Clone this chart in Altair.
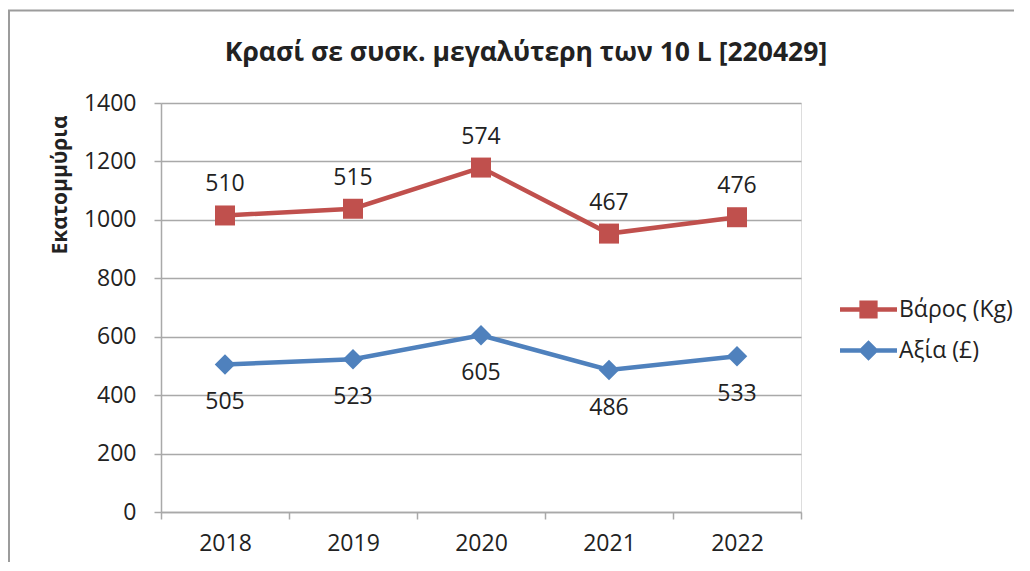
import altair as alt
import pandas as pd

years = ["2018", "2019", "2020", "2021", "2022"]
weight = [510, 515, 574, 467, 476]   # Βάρος (Kg)
value = [505, 523, 605, 486, 533]    # Αξία (£)
series = ["Βάρος (Kg)", "Αξία (£)"]
colors = ["#C0504D", "#4F81BD"]
y_ticks = [0, 200, 400, 600, 800, 1000, 1200, 1400]
chart_title = "Κρασί σε συσκ. μεγαλύτερη των 10 L [220429]"

rows = []
for i, yr in enumerate(years):
    rows.append({"year": yr, "series": series[1], "v": value[i], "ord": 0})
    rows.append({"year": yr, "series": series[0], "v": weight[i], "ord": 1})
df = pd.DataFrame(rows)

FONT = "Open Sans"
GRID = "#a9a9a9"
TXT = "#222222"
FS = 23

base = alt.Chart(df).transform_stack(
    stack="v", groupby=["year"], as_=["y0", "y1"], sort=[alt.SortField("ord")]
)

x_enc = alt.X(
    "year:N",
    title=None,
    sort=years,
    bandPosition=0.5,
    scale=alt.Scale(type="band", paddingInner=0, paddingOuter=0),
    axis=alt.Axis(
        tickBand="extent", labelAngle=0, labelFont=FONT, labelFontSize=FS,
        labelColor=TXT, labelPadding=13, tickSize=7, tickColor=GRID,
        domainColor=GRID, domainWidth=1.5, tickWidth=1.5, grid=False,
    ),
)
y_enc = alt.Y(
    "y1:Q",
    scale=alt.Scale(domain=[0, 1400]),
    axis=alt.Axis(
        values=y_ticks, format="d", title="Εκατομμύρια", titleFont=FONT, titleFontSize=21,
        titleFontWeight="bold", titleColor=TXT, titleX=-101, titleY=12,
        titleAlign="right", titleBaseline="middle", titleAngle=-90,
        labelFont=FONT, labelFontSize=FS, labelColor=TXT, labelPadding=18,
        tickSize=7, tickColor=GRID, tickWidth=1.5, domainColor=GRID,
        domainWidth=1.5, gridColor=GRID, gridWidth=1.5,
    ),
)

red_path = "M-1,-0.08H1V0.08H-1Z M-0.32,-0.32H0.32V0.32H-0.32Z"
blue_path = "M-1,-0.08H1V0.08H-1Z M0,-0.36L0.36,0L0,0.36L-0.36,0Z"

legend_params = dict(
    title=None, orient="none", legendX=679, legendY=178,
    labelFont=FONT, labelFontSize=FS, labelColor=TXT, labelOffset=2,
    symbolSize=3249, symbolOpacity=1, symbolStrokeWidth=0, rowPadding=-10,
)

color_enc = alt.Color(
    "series:N",
    scale=alt.Scale(domain=series, range=colors),
    legend=alt.Legend(**legend_params),
)

border = alt.Chart(pd.DataFrame({"a": [0]})).mark_rect(
    fillOpacity=0, stroke="#9c9c9c", strokeWidth=2
).encode(
    x=alt.value(-152), x2=alt.value(900), y=alt.value(-92.5), y2=alt.value(600)
)

title_layer = alt.Chart(pd.DataFrame({"t": [chart_title]})).mark_text(
    font=FONT, fontSize=26.5, fontWeight="bold", color=TXT,
    align="center", baseline="alphabetic"
).encode(x=alt.value(365), y=alt.value(-42), text="t:N")

lines = base.mark_line(strokeWidth=4.5).encode(x=x_enc, y=y_enc, color=color_enc)

squares = base.transform_filter(alt.datum.series == series[0]).mark_point(
    shape="square", filled=True, size=400, opacity=1
).encode(x=x_enc, y=y_enc, color=color_enc)

diamonds = base.transform_filter(alt.datum.series == series[1]).mark_point(
    shape="diamond", filled=True, size=420, opacity=1
).encode(x=x_enc, y=y_enc, color=color_enc)

legend_layer = base.mark_point(filled=True, opacity=0).encode(
    x=x_enc, y=y_enc, color=color_enc,
    shape=alt.Shape("series:N",
                    scale=alt.Scale(domain=series, range=[red_path, blue_path]),
                    legend=alt.Legend(**legend_params)),
)

red_text = base.transform_filter(alt.datum.series == series[0]).mark_text(
    dy=-31, font=FONT, fontSize=FS, color=TXT, baseline="middle"
).encode(x=x_enc, y=y_enc, text=alt.Text("v:Q"))

blue_text = base.transform_filter(alt.datum.series == series[1]).mark_text(
    dy=38, font=FONT, fontSize=FS, color=TXT, baseline="middle"
).encode(x=x_enc, y=y_enc, text=alt.Text("v:Q"))

chart = alt.layer(
    border, title_layer, lines, squares, diamonds, legend_layer, red_text, blue_text
).properties(
    width=640, height=409,
    autosize=alt.AutoSizeParams(type="none"),
    padding={"left": 153, "top": 95, "right": 213, "bottom": 50},
).configure_view(strokeWidth=0).configure(background="white")

chart.save("out.html", embed_options={"renderer": "svg", "actions": False})
